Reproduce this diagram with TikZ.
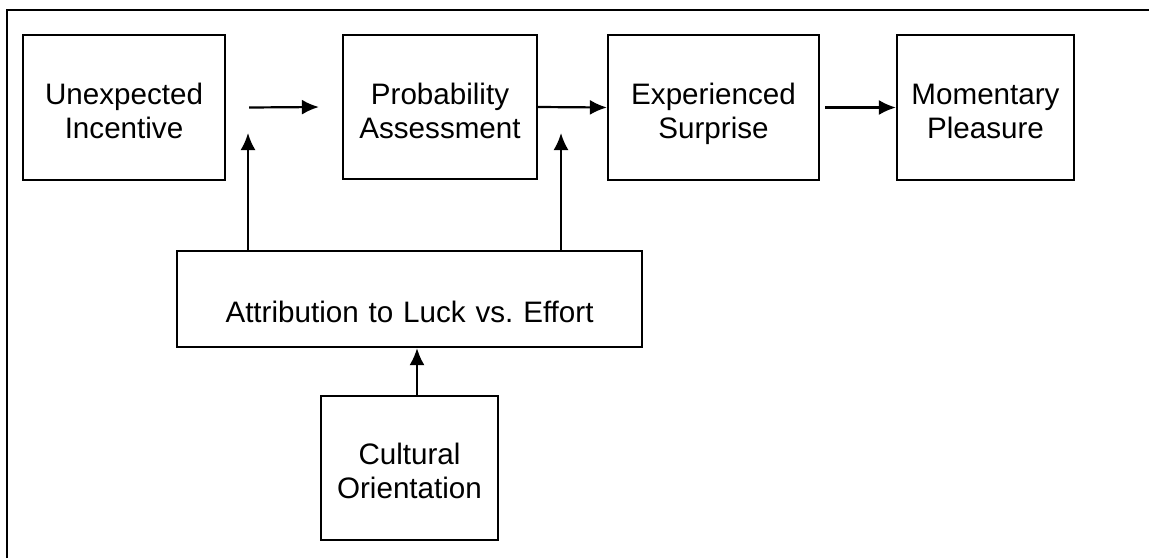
\documentclass[tikz,border=0pt]{standalone}
\usepackage{fontspec}
\setmainfont{Liberation Sans}
\usetikzlibrary{arrows.meta}

\tikzset{
  box/.style={draw,line width=1.1pt,inner sep=0pt,align=center,
    font=\fontsize{14.8}{17}\selectfont},
  link/.style={line width=1.1pt,-{Latex[length=8.5pt,width=7.5pt]}}
}

\begin{document}
\begin{tikzpicture}[x=0.5pt,y=-0.5pt]
\useasboundingbox (0,0) rectangle (1149,558);
\draw[line width=1.2pt] (7,558) -- (7,10) -- (1149,10);
% top row
\node[box,text width=101pt,text height=34.5pt,text depth=38pt] (ui)at(124,107.5){Unexpected\\Incentive};
\node[box,text width=97pt,text height=34.5pt,text depth=37.5pt] (pa)at(440,107){Probability\\Assessment};
\node[box,text width=105.5pt,text height=34.5pt,text depth=38pt] (es)at(713.5,107.5){Experienced\\Surprise};
\node[box,text width=88.5pt,text height=34.5pt,text depth=38pt] (mp)at(985.5,107.5){Momentary\\Pleasure};
% lower boxes
\node[box,text width=232.5pt,text height=35.5pt,text depth=12.5pt] (at)at(409.5,299){Attribution to Luck vs.\ Effort};
\node[box,text width=88.5pt,text height=34pt,text depth=38pt] (co)at(409.5,468){Cultural\\Orientation};
\coordinate (j1)at(248,133);
\coordinate (j2)at(561,133);
\draw[link] ([xshift=11.5pt]ui.east) to ([xshift=-11.5pt]pa.west);
\draw[link] (pa.east) to (es.west);
\draw[link] ([xshift=2.5pt]es.east) to (mp.west);
\draw[link] (j1 |- at.north) to (j1);
\draw[link] (j2 |- at.north) to (j2);
\draw[link] (co.north -| 417,0) to (at.south -| 417,0);
\end{tikzpicture}
\end{document}
